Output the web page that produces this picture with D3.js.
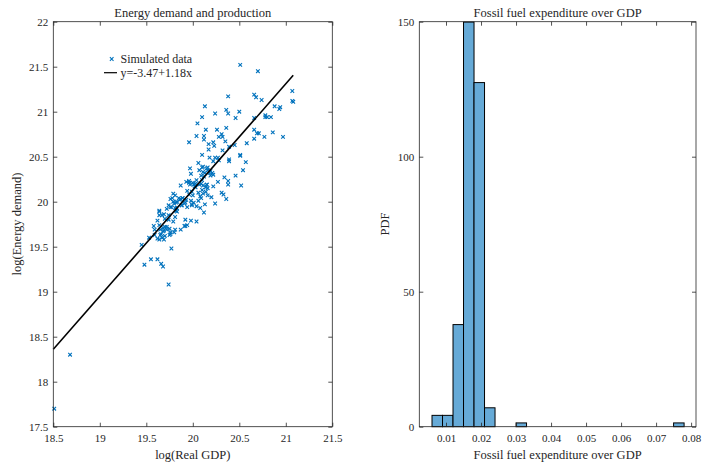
<!DOCTYPE html>
<html lang="en">

<head>
    <meta charset="UTF-8">
    <title>Energy demand and fossil fuel expenditure</title>
    <script src="https://d3js.org/d3.v7.min.js"></script>
    <style>
        body { margin: 0; background: #fff; }
        text { font-family: "Liberation Serif", "DejaVu Serif", serif; fill: #262626; }
    </style>
</head>

<body>
    <script>

        // left panel: log(Real GDP) vs log(Energy demand)
        var gdp = [20.51, 20.70, 21.07, 21.08, 21.07, 20.66, 20.68, 20.74, 20.38, 20.13,
            20.36, 20.38, 20.24, 20.50, 20.46, 20.10, 20.66, 20.78, 20.88, 20.93,
            20.94, 20.78, 20.80, 20.84, 20.66, 20.69, 20.71, 20.77, 20.86, 20.97,
            20.58, 20.05, 20.14, 20.12, 20.04, 19.96, 20.12, 20.17, 20.26, 20.36,
            20.31, 20.28, 20.32, 20.22, 20.23, 20.39, 20.32, 20.17, 20.51, 20.51,
            20.57, 20.10, 20.18, 20.24, 20.27, 20.28, 20.39, 20.39, 20.22, 20.06,
            20.11, 20.15, 20.16, 20.07, 20.11, 20.13, 20.18, 20.19, 20.21, 20.09,
            20.12, 20.54, 20.46, 20.34, 20.38, 20.38, 20.52, 20.31, 20.33, 20.36,
            19.98, 20.04, 19.96, 19.93, 19.96, 20.00, 20.03, 20.02, 20.07, 20.09,
            20.11, 20.14, 20.15, 20.10, 20.11, 20.14, 20.16, 20.06, 20.00, 19.96,
            19.94, 20.09, 20.22, 20.27, 20.13, 19.98, 20.01, 19.99, 20.04, 19.89,
            19.87, 19.79, 19.86, 19.83, 19.79, 19.82, 19.76, 19.92, 19.88, 19.94,
            19.77, 19.81, 19.83, 19.72, 19.74, 19.82, 20.12, 20.08, 19.64, 19.64,
            19.67, 19.69, 19.74, 19.81, 19.70, 19.74, 19.79, 19.62, 19.92, 19.98,
            20.04, 19.58, 19.59, 19.64, 19.65, 19.70, 19.72, 19.75, 19.81, 19.87,
            19.92, 19.94, 19.53, 19.59, 19.65, 19.67, 19.70, 19.69, 19.75, 19.45,
            19.62, 19.64, 19.66, 19.68, 19.76, 19.76, 19.80, 19.91, 19.77, 19.48,
            19.55, 19.62, 19.66, 19.68, 19.74, 18.68, 18.51,
            19.97, 20.01, 19.99, 20.03, 20.10, 20.15, 20.16, 20.08, 20.06, 19.99,
            20.20, 20.24, 19.87, 19.85, 19.81, 19.78, 19.80, 19.76, 19.83, 19.88,
            19.91, 19.93, 19.89, 19.64, 20.16, 20.10, 19.97, 20.19, 20.22, 20.35,
            20.45, 20.66, 19.68, 19.69, 19.72];

        var energy = [21.52, 21.45, 21.23, 21.11, 21.12, 21.19, 21.16, 21.13, 21.17, 21.06,
            21.02, 20.98, 20.98, 21.00, 20.93, 20.94, 20.93, 20.96, 21.06, 21.03,
            21.05, 20.94, 20.94, 20.94, 20.80, 20.76, 20.76, 20.72, 20.77, 20.72,
            20.65, 20.87, 20.80, 20.73, 20.73, 20.66, 20.69, 20.64, 20.80, 20.82,
            20.75, 20.72, 20.72, 20.66, 20.62, 20.61, 20.57, 20.58, 20.51, 20.52,
            20.44, 20.52, 20.49, 20.49, 20.49, 20.46, 20.47, 20.45, 20.45, 20.43,
            20.39, 20.37, 20.35, 20.35, 20.33, 20.32, 20.32, 20.29, 20.32, 20.29,
            20.28, 20.35, 20.29, 20.27, 20.23, 20.19, 20.18, 20.10, 20.08, 20.03,
            20.31, 20.24, 20.23, 20.22, 20.21, 20.21, 20.20, 20.17, 20.19, 20.20,
            20.18, 20.16, 20.19, 20.13, 20.09, 20.11, 20.07, 20.10, 20.07, 20.08,
            20.12, 20.04, 20.17, 20.22, 19.97, 20.01, 19.99, 19.97, 19.95, 20.04,
            20.03, 20.09, 20.02, 20.00, 20.00, 19.99, 20.03, 19.99, 19.96, 19.94,
            19.94, 19.93, 19.93, 19.92, 19.96, 19.90, 19.88, 19.93, 19.89, 19.85,
            19.85, 19.86, 19.85, 19.83, 19.81, 19.80, 19.78, 19.79, 19.80, 19.79,
            19.78, 19.73, 19.69, 19.74, 19.69, 19.72, 19.69, 19.70, 19.69, 19.69,
            19.73, 19.74, 19.60, 19.63, 19.63, 19.60, 19.62, 19.58, 19.63, 19.52,
            19.59, 19.58, 19.64, 19.67, 19.66, 19.64, 19.66, 19.73, 19.48, 19.30,
            19.36, 19.36, 19.31, 19.28, 19.08, 18.30, 17.70,
            20.19, 20.19, 20.11, 20.16, 20.24, 20.19, 20.15, 20.06, 20.01, 19.96,
            20.05, 19.98, 20.18, 20.04, 20.07, 20.04, 19.98, 19.94, 19.89, 19.96,
            19.98, 20.02, 20.04, 19.90, 20.38, 20.38, 20.37, 20.34, 20.30, 20.67,
            20.63, 20.70, 19.71, 19.68, 19.72];

        var fitIntercept = -3.47;
        var fitSlope = 1.18;
        var fitRange = [18.5, 21.08];

        var scatterXTicks = [18.5, 19, 19.5, 20, 20.5, 21, 21.5];
        var scatterYTicks = [17.5, 18, 18.5, 19, 19.5, 20, 20.5, 21, 21.5, 22];

        // right panel: histogram (pdf normalisation)
        var binEdges = [0.006, 0.009, 0.012, 0.015, 0.018, 0.021, 0.024, 0.027, 0.030, 0.033,
            0.036, 0.039, 0.042, 0.045, 0.048, 0.051, 0.054, 0.057, 0.060, 0.063,
            0.066, 0.069, 0.072, 0.075, 0.078];
        var binCounts = [3, 3, 27, 107, 91, 5, 0, 0, 1, 0, 0, 0, 0, 0, 0, 0, 0, 0, 0, 0, 0, 0, 0, 1];

        var histXTicks = [0.01, 0.02, 0.03, 0.04, 0.05, 0.06, 0.07, 0.08];
        var histYTicks = [0, 50, 100, 150];

        var axisColor = "#262626";
        var blue = "#0072BD";

        var svg = d3.select("body").append("svg")
            .attr("width", 702)
            .attr("height", 466);

        function boxAxes(g, x, y, xTicks, yTicks, xFmt, yFmt) {
            var w = x.range()[1] - x.range()[0];
            var h = y.range()[0] - y.range()[1];
            var gx = g.append("g")
                .attr("transform", "translate(0," + y.range()[0] + ")")
                .call(d3.axisBottom(x).tickValues(xTicks).tickFormat(xFmt).tickSizeInner(-4).tickSizeOuter(0).tickPadding(8));
            var gxt = g.append("g")
                .attr("transform", "translate(0," + y.range()[1] + ")")
                .call(d3.axisTop(x).tickValues(xTicks).tickFormat("").tickSizeInner(-4).tickSizeOuter(0));
            var gy = g.append("g")
                .attr("transform", "translate(" + x.range()[0] + ",0)")
                .call(d3.axisLeft(y).tickValues(yTicks).tickFormat(yFmt).tickSizeInner(-4).tickSizeOuter(0).tickPadding(5));
            var gyr = g.append("g")
                .attr("transform", "translate(" + x.range()[1] + ",0)")
                .call(d3.axisRight(y).tickValues(yTicks).tickFormat("").tickSizeInner(-4).tickSizeOuter(0));
            [gx, gxt, gy, gyr].forEach(function (a) {
                a.select(".domain").remove();
                a.selectAll("line").attr("stroke", axisColor).attr("stroke-width", 0.8);
                a.selectAll("text").attr("font-size", 11).attr("font-family", null).attr("fill", axisColor);
            });
            g.append("rect")
                .attr("x", x.range()[0]).attr("y", y.range()[1])
                .attr("width", w).attr("height", h)
                .attr("fill", "none").attr("stroke", axisColor).attr("stroke-width", 0.8);
        }

        // ---------- scatter ----------
        var x1 = d3.scaleLinear().domain([18.5, 21.5]).range([53.3, 332.3]);
        var y1 = d3.scaleLinear().domain([17.5, 22]).range([426.7, 21.7]);
        var left = svg.append("g");

        var pts = gdp.map(function (d, i) { return [d, energy[i]]; });
        var s = 1.8;
        left.append("g").selectAll("path")
            .data(pts)
            .enter()
                .append("path")
                .attr("d", function (d) {
                    var px = x1(d[0]), py = y1(d[1]);
                    return "M" + (px - s) + "," + (py - s) + "L" + (px + s) + "," + (py + s) +
                        "M" + (px - s) + "," + (py + s) + "L" + (px + s) + "," + (py - s);
                })
                .attr("stroke", blue)
                .attr("stroke-width", 1.1)
                .attr("fill", "none");

        left.append("line")
            .attr("x1", x1(fitRange[0])).attr("y1", y1(fitIntercept + fitSlope * fitRange[0]))
            .attr("x2", x1(fitRange[1])).attr("y2", y1(fitIntercept + fitSlope * fitRange[1]))
            .attr("stroke", "black").attr("stroke-width", 1.6);

        boxAxes(left, x1, y1, scatterXTicks, scatterYTicks, d3.format(""), d3.format(""));

        // legend
        var lg = left.append("g");
        lg.append("path")
            .attr("d", "M" + (111.7 - s) + "," + (59 - s) + "L" + (111.7 + s) + "," + (59 + s) +
                "M" + (111.7 - s) + "," + (59 + s) + "L" + (111.7 + s) + "," + (59 - s))
            .attr("stroke", blue).attr("stroke-width", 1.1);
        lg.append("text").attr("x", 120.5).attr("y", 62.5).attr("font-size", 12).text("Simulated data");
        lg.append("line").attr("x1", 104).attr("x2", 117).attr("y1", 72.7).attr("y2", 72.7)
            .attr("stroke", "black").attr("stroke-width", 1.2);
        lg.append("text").attr("x", 120.5).attr("y", 76.5).attr("font-size", 12).text("y=-3.47+1.18x");

        left.append("text").attr("x", 192.8).attr("y", 17).attr("text-anchor", "middle")
            .attr("font-size", 12.5).text("Energy demand and production");
        left.append("text").attr("x", 192.8).attr("y", 459).attr("text-anchor", "middle")
            .attr("font-size", 12.5).text("log(Real GDP)");
        left.append("text").attr("transform", "translate(21,224) rotate(-90)").attr("text-anchor", "middle")
            .attr("font-size", 12.5).text("log(Energy demand)");

        // ---------- histogram ----------
        var x2 = d3.scaleLinear().domain([0.00237, 0.0814]).range([419.3, 696]);
        var y2 = d3.scaleLinear().domain([0, 150]).range([426.7, 21.7]);
        var right = svg.append("g");
        var total = d3.sum(binCounts);

        var bins = binCounts.map(function (c, i) {
            return { x0: binEdges[i], x1: binEdges[i + 1], pdf: c / (total * (binEdges[i + 1] - binEdges[i])) };
        });

        right.append("g").selectAll("rect")
            .data(bins)
            .enter()
                .append("rect")
                .attr("x", function (d) { return x2(d.x0); })
                .attr("width", function (d) { return x2(d.x1) - x2(d.x0); })
                .attr("y", function (d) { return y2(d.pdf); })
                .attr("height", function (d) { return y2(0) - y2(d.pdf); })
                .attr("fill", "#66aad7")
                .attr("stroke", "black")
                .attr("stroke-width", 1);

        boxAxes(right, x2, y2, histXTicks, histYTicks, d3.format(".2f"), d3.format(""));

        right.append("text").attr("x", 557.6).attr("y", 17).attr("text-anchor", "middle")
            .attr("font-size", 12.5).text("Fossil fuel expenditure over GDP");
        right.append("text").attr("x", 557.6).attr("y", 459).attr("text-anchor", "middle")
            .attr("font-size", 12.5).text("Fossil fuel expenditure over GDP");
        right.append("text").attr("transform", "translate(389,224) rotate(-90)").attr("text-anchor", "middle")
            .attr("font-size", 12.5).text("PDF");

    </script>

</body>

</html>
